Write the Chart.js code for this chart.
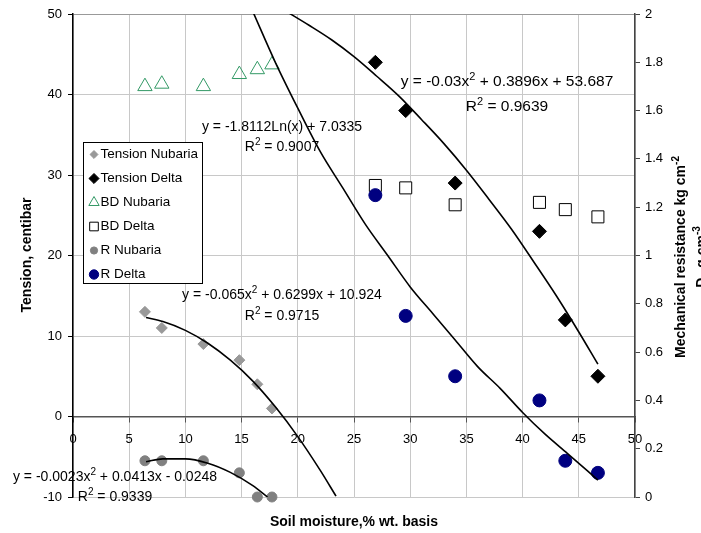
<!DOCTYPE html>
<html lang="en">
  <head>
    <meta charset="UTF-8" />
    <title>Soil moisture: tension, bulk density and resistance</title>
    <script src="https://cdn.jsdelivr.net/npm/chart.js"></script>
    <style>
      body { margin: 0; background: #fff; }
    </style>
  </head>
  <body>
    <canvas id="soilChart" width="701" height="533"></canvas>

    <script>
      // soil moisture, % wt. basis
      const nubariaMoisture = [6.4, 7.9, 11.6, 14.8, 16.4, 17.7];
      const deltaMoisture = [26.9, 29.6, 34.0, 41.5, 43.8, 46.7];

      // tension, centibar (left axis)
      const tensionNubaria = [13, 11, 9, 7, 4, 1];
      const tensionDelta = [44, 38, 29, 23, 12, 5];

      // bulk density, g cm-3 (right axis)
      const bdNubaria = [1.70, 1.71, 1.70, 1.75, 1.77, 1.79];
      const bdDelta = [1.29, 1.28, 1.21, 1.22, 1.19, 1.16];

      // mechanical resistance, kg cm-2 (right axis)
      const rNubaria = [0.15, 0.15, 0.15, 0.10, 0, 0];
      const rDelta = [1.25, 0.75, 0.50, 0.40, 0.15, 0.10];

      // trendlines, points
      const fitTensionNubariaX = [6.5, 8, 10, 12, 14, 16, 18, 20, 22, 23.4];
      const fitTensionNubariaY = [12.3, 11.8, 10.7, 9.1, 7.0, 4.4, 1.2, -2.5, -6.7, -9.9];
      const fitTensionDeltaX = [19, 21, 23, 25, 27, 29, 31, 33, 35, 37, 39, 41, 43, 45, 46.7];
      const fitTensionDeltaY = [50.3, 48.6, 46.8, 44.7, 42.3, 39.8, 36.9, 33.9, 30.6, 27.0, 23.3, 19.2, 15.0, 10.5, 6.5];
      const fitRNubariaX = [6.5, 8, 10, 12, 14, 16, 17.3];
      const fitRNubariaY = [0.146, 0.158, 0.158, 0.140, 0.102, 0.047, 0];
      const fitRDeltaX = [16, 18, 20, 22, 24, 26, 28, 30, 32, 34, 36, 38, 40, 42, 44, 46.7];
      const fitRDeltaY = [2.01, 1.80, 1.61, 1.43, 1.28, 1.13, 1.00, 0.87, 0.76, 0.65, 0.54, 0.45, 0.35, 0.26, 0.18, 0.07];

      const seriesNames = ["Tension Nubaria", "Tension Delta", "BD Nubaria", "BD Delta", "R Nubaria", "R Delta"];

      // trendline labels: [centre x, y of equation, y of R2, font size, equation, R2]
      const fitLabels = [
        [282, 127, 147, 14, "y = -1.8112Ln(x) + 7.0335", "R^2 = 0.9007"],
        [507, 82, 107, 15.5, "y = -0.03x^2 + 0.3896x + 53.687", "R^2 = 0.9639"],
        [282, 295, 316, 14, "y = -0.065x^2 + 0.6299x + 10.924", "R^2 = 0.9715"],
        [115, 477, 497, 14, "y = -0.0023x^2 + 0.0413x - 0.0248", "R^2 = 0.9339"],
      ];

      const FONT = '"Liberation Sans", Arial, sans-serif';
      Chart.defaults.font.family = FONT;
      Chart.defaults.font.size = 13;
      Chart.defaults.color = "#000";

      const pts = (xs, ys) => xs.map((x, i) => ({ x: x, y: ys[i] }));

      // split "cm^-2" / "D_b" into normal, superscript and subscript runs
      function richParts(str) {
        const parts = [];
        const re = /([\^_])(\S+)/g;
        let last = 0;
        let m;
        while ((m = re.exec(str))) {
          if (m.index > last) parts.push({ t: str.slice(last, m.index), k: "" });
          parts.push({ t: m[2], k: m[1] });
          last = re.lastIndex;
        }
        if (last < str.length) parts.push({ t: str.slice(last), k: "" });
        return parts;
      }

      function drawRich(ctx, str, x, y, size, weight, align) {
        const parts = richParts(str);
        const small = Math.round(size * 0.68);
        const font = (s) => weight + " " + s + "px " + FONT;
        let total = 0;
        parts.forEach((p) => {
          ctx.font = font(p.k ? small : size);
          p.w = ctx.measureText(p.t).width;
          total += p.w;
        });
        let cx = align === "center" ? x - total / 2 : x;
        ctx.textAlign = "left";
        ctx.textBaseline = "middle";
        parts.forEach((p) => {
          ctx.font = font(p.k ? small : size);
          const dy = p.k === "^" ? -size * 0.35 : p.k === "_" ? size * 0.3 : 0;
          ctx.fillText(p.t, cx, y + dy);
          cx += p.w;
        });
      }

      function drawRotated(ctx, str, x, y, size) {
        ctx.save();
        ctx.translate(x, y);
        ctx.rotate(-Math.PI / 2);
        drawRich(ctx, str, 0, 0, size, "bold", "center");
        ctx.restore();
      }

      const overlay = {
        id: "overlay",
        afterDraw(chart) {
          const ctx = chart.ctx;
          ctx.save();
          ctx.fillStyle = "#000";

          fitLabels.forEach((f) => {
            drawRich(ctx, f[4], f[0], f[1], f[3], "normal", "center");
            drawRich(ctx, f[5], f[0], f[2], f[3], "normal", "center");
          });

          // axis titles
          drawRich(ctx, "Soil moisture,% wt. basis", 354, 522, 14, "bold", "center");
          drawRotated(ctx, "Tension, centibar", 27, 255, 14);
          drawRotated(ctx, "Mechanical resistance kg cm^-2", 681, 257, 14);
          drawRotated(ctx, "D_b g cm^-3", 702, 257, 14);

          // legend box
          ctx.fillStyle = "#fff";
          ctx.strokeStyle = "#000";
          ctx.lineWidth = 1;
          ctx.fillRect(83.5, 142.5, 119, 141);
          ctx.strokeRect(83.5, 142.5, 119, 141);
          const metas = chart.data.datasets.slice(0, seriesNames.length);
          metas.forEach((ds, i) => {
            const y = 154.5 + 24 * i;
            ctx.fillStyle = ds.backgroundColor;
            ctx.strokeStyle = ds.borderColor;
            ctx.lineWidth = 1;
            Chart.helpers.drawPoint(ctx, {
              pointStyle: ds.pointStyle,
              rotation: 0,
              radius: ds.radius * 0.72,
              borderWidth: 1,
            }, 94, y);
            ctx.fillStyle = "#000";
            drawRich(ctx, seriesNames[i], 100.5, y, 13.5, "normal", "left");
          });
          ctx.restore();
        },
      };

      const lineStyle = {
        showLine: true,
        pointRadius: 0,
        borderColor: "#000",
        borderWidth: 1.6,
        cubicInterpolationMode: "monotone",
        order: 0,
      };

      const ctx = document.getElementById("soilChart").getContext("2d");
      new Chart(ctx, {
        type: "scatter",
        data: {
          datasets: [
            {
              label: seriesNames[0],
              data: pts(nubariaMoisture, tensionNubaria),
              yAxisID: "y",
              pointStyle: "rectRot",
              radius: 5.5,
              backgroundColor: "#999999",
              borderColor: "#999999",
              order: 6,
            },
            {
              label: seriesNames[1],
              data: pts(deltaMoisture, tensionDelta),
              yAxisID: "y",
              pointStyle: "rectRot",
              radius: 7,
              backgroundColor: "#000000",
              borderColor: "#000000",
              order: 5,
            },
            {
              label: seriesNames[2],
              data: pts(nubariaMoisture, bdNubaria),
              yAxisID: "y2",
              pointStyle: "triangle",
              radius: 8.3,
              backgroundColor: "rgba(255,255,255,0)",
              borderColor: "#339966",
              borderWidth: 1,
              order: 4,
            },
            {
              label: seriesNames[3],
              data: pts(deltaMoisture, bdDelta),
              yAxisID: "y2",
              pointStyle: "rect",
              radius: 8.5,
              backgroundColor: "#ffffff",
              borderColor: "#000000",
              borderWidth: 1,
              order: 3,
            },
            {
              label: seriesNames[4],
              data: pts(nubariaMoisture, rNubaria),
              yAxisID: "y2",
              pointStyle: "circle",
              radius: 5,
              backgroundColor: "#808080",
              borderColor: "#808080",
              clip: false,
              order: 2,
            },
            {
              label: seriesNames[5],
              data: pts(deltaMoisture, rDelta),
              yAxisID: "y2",
              pointStyle: "circle",
              radius: 6.5,
              backgroundColor: "#000080",
              borderColor: "#000080",
              order: 1,
            },
            Object.assign({ data: pts(fitRDeltaX, fitRDeltaY), yAxisID: "y2" }, lineStyle),
            Object.assign({ data: pts(fitTensionDeltaX, fitTensionDeltaY), yAxisID: "y" }, lineStyle),
            Object.assign({ data: pts(fitTensionNubariaX, fitTensionNubariaY), yAxisID: "y" }, lineStyle),
            Object.assign({ data: pts(fitRNubariaX, fitRNubariaY), yAxisID: "y2" }, lineStyle),
          ],
        },
        options: {
          responsive: false,
          animation: false,
          devicePixelRatio: 1,
          layout: { padding: { top: 14, right: 0, bottom: 36, left: 0 } },
          plugins: { legend: { display: false }, tooltip: { enabled: false } },
          scales: {
            x: {
              type: "linear",
              position: { y: 0 },
              min: 0,
              max: 50,
              ticks: { stepSize: 5, padding: 10 },
              grid: { color: "#c8c8c8", tickLength: 5, tickColor: "#555" },
              border: { color: "#555", width: 1.5 },
              afterFit: (s) => { s.height = 0; },
            },
            y: {
              type: "linear",
              position: "left",
              min: -10,
              max: 50,
              ticks: { stepSize: 10, padding: 6 },
              grid: {
                color: (c) => (c.tick && c.tick.value === 50 ? "#999" : "#c8c8c8"),
                tickLength: 5,
                tickColor: "#000",
              },
              border: { color: "#000", width: 1.5 },
              afterFit: (s) => { s.width = 73; },
            },
            y2: {
              type: "linear",
              position: "right",
              min: 0,
              max: 2,
              ticks: {
                stepSize: 0.2,
                padding: 5,
                callback: (v) => String(Number(v.toFixed(1))),
              },
              grid: { drawOnChartArea: false, tickLength: 5, tickColor: "#444" },
              border: { color: "#444", width: 1.5 },
              afterFit: (s) => { s.width = 66; },
            },
          },
        },
        plugins: [overlay],
      });
    </script>
  </body>
</html>
